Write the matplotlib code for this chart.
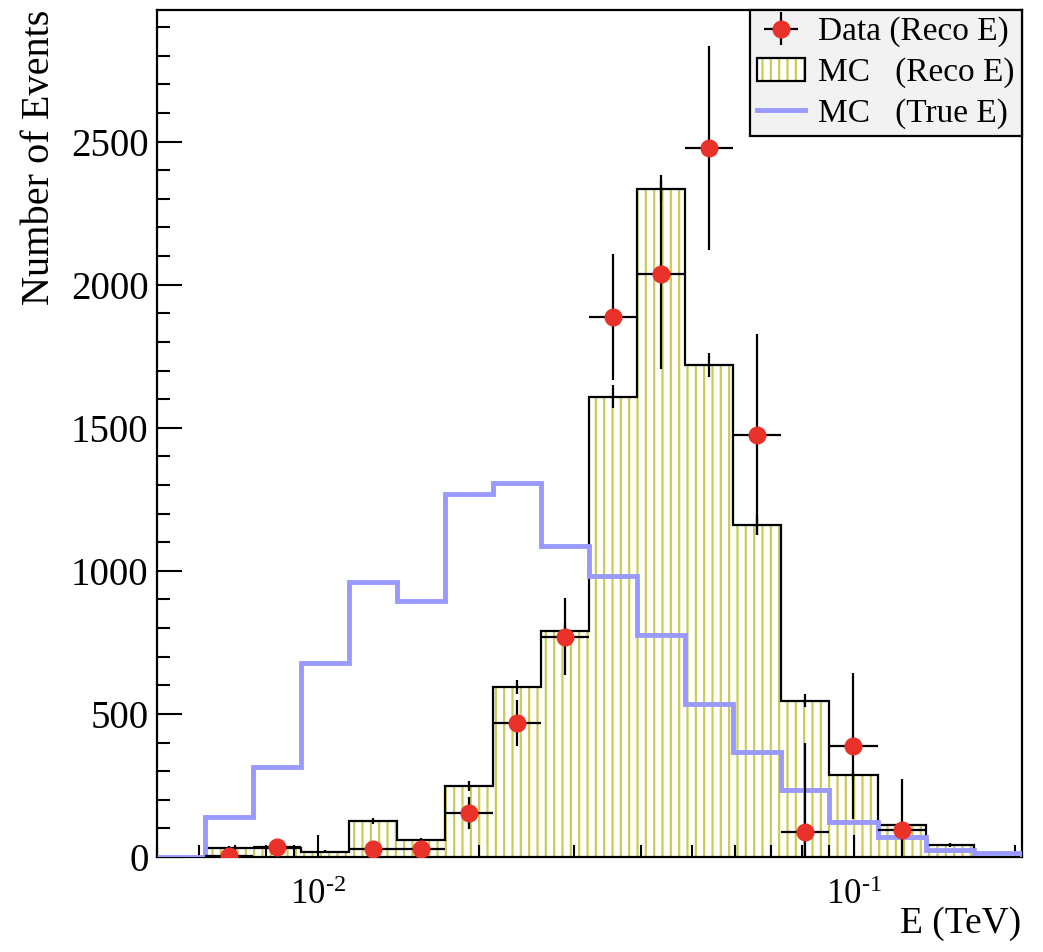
import numpy as np
import matplotlib
matplotlib.use("Agg")
import matplotlib.pyplot as plt
from matplotlib.patches import Patch
from matplotlib.legend_handler import HandlerTuple
from matplotlib.ticker import LogLocator, NullFormatter, MultipleLocator, FuncFormatter

plt.rcParams['font.family'] = ['Liberation Serif', 'DejaVu Serif']
plt.rcParams['mathtext.fontset'] = 'custom'
plt.rcParams['mathtext.rm'] = 'Liberation Serif'
plt.rcParams['mathtext.it'] = 'Liberation Serif:italic'
plt.rcParams['hatch.linewidth'] = 1.6

# log-spaced energy bin edges (TeV)
edges = [0.005000, 0.006146, 0.007556, 0.009292, 0.01142, 0.01404, 0.01727,
         0.02123, 0.02610, 0.03209, 0.03945, 0.04850, 0.05963, 0.07331,
         0.09012, 0.1108, 0.1362, 0.1675, 0.2059]

# MC, reconstructed energy
mc_reco = [0, 33, 33, 19, 127, 59, 248, 593, 791, 1609, 2336, 1720, 1161,
           546, 287, 112, 42, 0]
mc_reco_err = [0, 6, 6, 4, 11, 8, 16, 24, 28, 40, 48, 42, 34, 23, 17, 11, 6, 0]

# MC, true energy
mc_true = [0, 140, 315, 679, 962, 893, 1268, 1307, 1088, 983, 776, 535, 368,
           234, 124, 71, 24, 15]

# data, reconstructed energy (nan = no point)
nan = np.nan
data = [nan, 5, 34, nan, 27, 27, 153, 467, 770, 1887, 2037, 2479, 1476,
        89, 388, 94, nan, nan]
data_err = [nan, 15, 20, nan, 20, 20, 55, 80, 135, 220, 330, 356, 350,
            310, 255, 180, nan, nan]

edges_a = np.array(edges)
centers = np.sqrt(edges_a[:-1] * edges_a[1:])
xerr = [centers - edges_a[:-1], edges_a[1:] - centers]

fig = plt.figure(figsize=(10.43, 9.52), dpi=100)
ax = fig.add_axes([0.1505, 0.0998, 0.829, 0.8897])

hatch_col = '#cccc55'
red = '#e8322a'
blue = '#9999ff'

# MC reco: hatched fill + black outline
ax.stairs(mc_reco, edges, fill=True, facecolor='none', edgecolor=hatch_col,
          hatch='||', linewidth=0, zorder=1)
ax.stairs(mc_reco, edges, color='black', linewidth=1.6, zorder=2)
ax.errorbar(centers, mc_reco, yerr=mc_reco_err, fmt='none', ecolor='black',
            elinewidth=1.6, zorder=2)

# MC true
ax.stairs(mc_true, edges, color=blue, linewidth=3.5, zorder=3)

# data
ax.errorbar(centers, data, yerr=data_err, xerr=xerr, fmt='o', color=red,
            markersize=12, markeredgecolor=red, ecolor='black',
            elinewidth=1.6, capsize=0, zorder=4)

ax.set_xscale('log')
ax.set_xlim(0.005, 0.2059)
ax.set_ylim(0, 2960)

ax.yaxis.set_major_locator(MultipleLocator(500))
ax.yaxis.set_minor_locator(MultipleLocator(100))
ax.xaxis.set_major_locator(LogLocator(base=10))
ax.xaxis.set_minor_locator(LogLocator(base=10, subs=np.arange(2, 10)))
ax.xaxis.set_minor_formatter(NullFormatter())
ax.xaxis.set_major_formatter(
    FuncFormatter(lambda v, p: r'$10^{\text{%d}}$' % round(np.log10(v))))

ax.tick_params(axis='both', which='both', direction='in', top=False,
               right=False, width=1.5, color='black')
ax.tick_params(axis='y', which='major', length=18, labelsize=28, pad=6)
ax.tick_params(axis='y', which='minor', length=9)
ax.tick_params(axis='x', which='major', length=16, labelsize=25, pad=16)
ax.tick_params(axis='x', which='minor', length=9)
for s in ax.spines.values():
    s.set_linewidth(1.6)

ax.set_ylabel('Number of Events', fontsize=29, loc='top')
ax.yaxis.set_label_coords(-0.115, 1.0)
ax.set_xlabel('E (TeV)', fontsize=27, loc='right')
ax.xaxis.set_label_coords(1.0, -0.058)

# legend
h_data = ax.errorbar([], [], yerr=[], xerr=[], fmt='o', color=red,
                     markersize=12, ecolor='black', elinewidth=1.6)
h_reco = (Patch(facecolor='white', edgecolor=hatch_col, hatch='||', linewidth=0),
          Patch(facecolor='none', edgecolor='black', linewidth=1.6))
h_true = plt.Line2D([], [], color=blue, linewidth=3.5)
leg = ax.legend([h_data, h_reco, h_true],
                ['Data (Reco E)', 'MC   (Reco E)', 'MC   (True E)'],
                handler_map={tuple: HandlerTuple(ndivide=1, pad=0)},
                loc='upper right', bbox_to_anchor=(1.0, 1.0), borderaxespad=0,
                fontsize=24, frameon=True, fancybox=False, framealpha=1,
                facecolor='#f2f2f2', edgecolor='black', handlelength=1.45,
                handletextpad=0.4, labelspacing=0.3, borderpad=0.2)
leg.get_frame().set_linewidth(1.6)

fig.savefig('out.png', dpi=100)
